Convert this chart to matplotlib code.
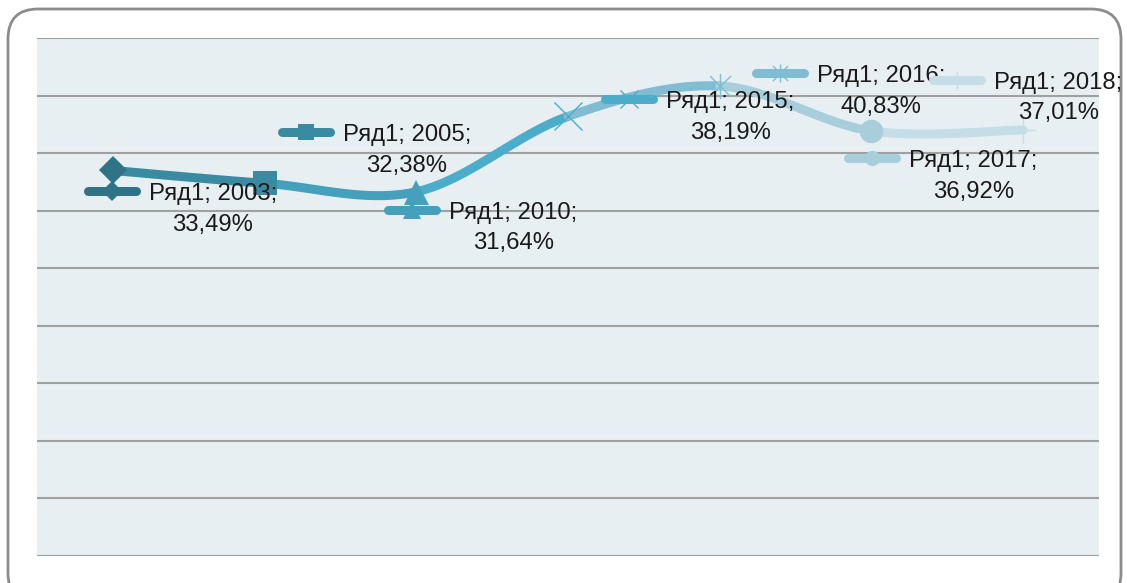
"""Recreate smooth line chart with data labels (Ряд1)."""

import numpy as np
import matplotlib

matplotlib.use("Agg")
import matplotlib.pyplot as plt
from matplotlib.lines import Line2D
from matplotlib.patches import FancyBboxPatch
from matplotlib.path import Path
from matplotlib.transforms import IdentityTransform

YEARS = ["2003", "2005", "2010", "2015", "2016", "2017", "2018"]
VALUES = [33.49, 32.38, 31.64, 38.19, 40.83, 36.92, 37.01]
SERIES_NAME = "Ряд1"

WIDTH, HEIGHT = 1127, 583

COLORS = ["#2f7386", "#3a8ba1", "#45a0bb", "#4badca", "#80bcd2", "#a8cedc", "#c4dde6"]
STAR = Path(
    [(-1, -1), (1, 1), (-1, 1), (1, -1), (0, -1.2), (0, 1.2)],
    [Path.MOVETO, Path.LINETO, Path.MOVETO, Path.LINETO, Path.MOVETO, Path.LINETO],
)
MARKERS = ["D", "s", "^", "x", STAR, "o", "+"]
MARKER_SIZES = [14, 17, 18, 20, 18, 17, 18]
KEY_MARKER_SIZES = [10, 12, 13, 13, 13, 11, 13]
# label key centre, offset in pixels from the point (x right, y down)
LABEL_OFFSETS = [(-1, 21), (41, -51), (-4, 18), (61, -17), (60, -13), (1, 27), (-66, -50)]


def smooth_curve(y, steps=40):
    """Catmull-Rom like smoothing, similar to Excel smoothed lines."""
    y = np.asarray(y, dtype=float)
    n = len(y)
    segments = []
    for i in range(n - 1):
        p0 = np.array([max(i - 1, 0), y[max(i - 1, 0)]])
        p1 = np.array([i, y[i]])
        p2 = np.array([i + 1, y[i + 1]])
        p3 = np.array([min(i + 2, n - 1), y[min(i + 2, n - 1)]])
        c1 = p1 + (p2 - p0) / 6
        c2 = p2 - (p3 - p1) / 6
        t = np.linspace(0, 1, steps)[:, None]
        pts = ((1 - t) ** 3) * p1 + 3 * ((1 - t) ** 2) * t * c1 + 3 * (1 - t) * t**2 * c2 + t**3 * p2
        segments.append(pts)
    return segments


def label_text(year, value):
    """Data label text in Excel style."""
    return f"{SERIES_NAME}; {year};\n{value:.2f}%".replace(".", ",")


def main() -> None:
    """Main function"""
    fig = plt.figure(figsize=(WIDTH / 100, HEIGHT / 100), dpi=100)
    fig.patch.set_facecolor("white")

    border = FancyBboxPatch(
        (8, -20), 1113, HEIGHT - 9 + 20,
        boxstyle="round,pad=0,rounding_size=30",
        transform=IdentityTransform(), facecolor="white",
        edgecolor="#8c8c8c", linewidth=2, zorder=0,
    )
    fig.add_artist(border)

    ax = fig.add_axes([37 / WIDTH, 1 - 556 / HEIGHT, (1099 - 37) / WIDTH, (556 - 38) / HEIGHT])
    ax.set_facecolor("#e8eff3")
    x = np.arange(len(YEARS))
    ax.set_xlim(-0.5, len(YEARS) - 0.5)
    ax.set_ylim(0, 45)
    ax.set_yticks(np.arange(0, 46, 5))
    ax.grid(axis="y", color="#a0a0a0", linewidth=1.5)
    ax.set_axisbelow(True)
    ax.tick_params(left=False, bottom=False, labelleft=False, labelbottom=False)
    for spine in ax.spines.values():
        spine.set_visible(False)

    for i, seg in enumerate(smooth_curve(VALUES)):
        ax.plot(seg[:, 0], seg[:, 1], color=COLORS[i + 1], linewidth=6.5,
                solid_capstyle="round", zorder=3)
    for i in range(len(YEARS)):
        filled = MARKERS[i] in ("D", "s", "^", "o")
        ax.plot(x[i], VALUES[i], marker=MARKERS[i], markersize=MARKER_SIZES[i],
                color=COLORS[i], markeredgewidth=1 if not filled else 0,
                linestyle="none", zorder=4)

    for i, (year, value) in enumerate(zip(YEARS, VALUES)):
        px, py = ax.transData.transform((x[i], value))
        dx, dy = LABEL_OFFSETS[i]
        cx, cy = px + dx, py - dy
        z = 10 + 2 * i
        key = Line2D([cx - 24, cx + 24], [cy, cy], color=COLORS[i], linewidth=6.5,
                     solid_capstyle="round", transform=IdentityTransform(), zorder=z)
        fig.add_artist(key)
        filled = MARKERS[i] in ("D", "s", "^", "o")
        mark = Line2D([cx], [cy], marker=MARKERS[i], markersize=KEY_MARKER_SIZES[i],
                      color=COLORS[i], markeredgewidth=1 if not filled else 0,
                      linestyle="none", transform=IdentityTransform(), zorder=z)
        fig.add_artist(mark)
        fig.text(cx + 37, cy + 8, label_text(year, value), transform=IdentityTransform(),
                 ha="left", va="top", multialignment="center", linespacing=1.5,
                 fontsize=17.2, family="Liberation Sans", color="#1a1a1a", zorder=z + 1)

    fig.savefig("out.png", dpi=100)


if __name__ == "__main__":
    main()
